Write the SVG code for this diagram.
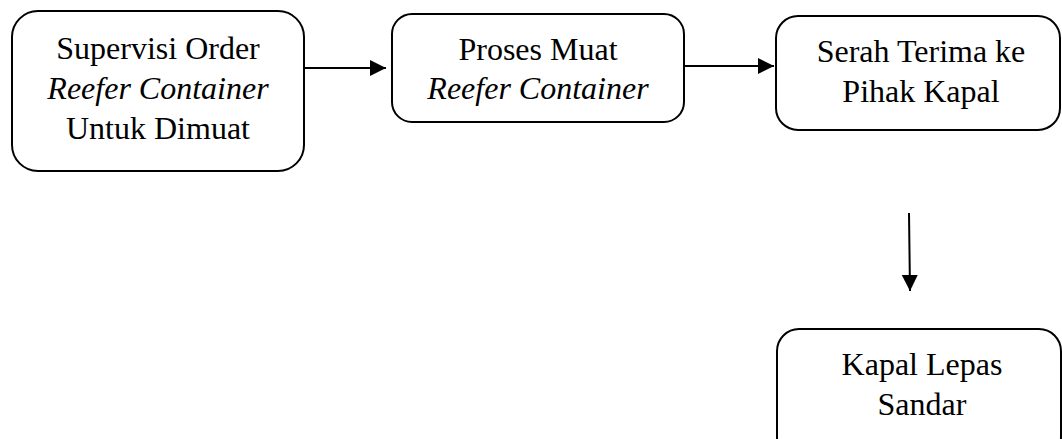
<svg xmlns="http://www.w3.org/2000/svg" width="1062" height="439" viewBox="0 0 1062 439">
  <style>
    .box { fill: #ffffff; stroke: #000000; stroke-width: 2; }
    .t { font-family: "Liberation Serif", "Times New Roman", serif; font-size: 32px; fill: #000000; text-anchor: middle; }
    .i { font-style: italic; }
    .edge { stroke: #000000; stroke-width: 2; fill: none; }
  </style>
  <defs>
    <marker id="ah" markerUnits="userSpaceOnUse" markerWidth="16" markerHeight="16" viewBox="0 0 16 16" refX="16" refY="8" orient="auto">
      <path d="M0,0 L16,8 L0,16 Z" fill="#000000"/>
    </marker>
  </defs>
  <rect width="1062" height="439" fill="#ffffff"/>
  <g id="connectors">
    <line class="edge" x1="304" y1="68" x2="386" y2="68" marker-end="url(#ah)"/>
    <line class="edge" x1="685" y1="66" x2="774" y2="66" marker-end="url(#ah)"/>
    <line class="edge" x1="909" y1="213" x2="910" y2="291" marker-end="url(#ah)"/>
  </g>
  <g id="node-supervisi">
    <rect class="box" x="12" y="11" width="292" height="160" rx="26" ry="26"/>
    <text class="t" x="158" y="59">Supervisi Order</text>
    <text class="t i" x="158" y="99">Reefer Container</text>
    <text class="t" x="158" y="139">Untuk Dimuat</text>
  </g>
  <g id="node-proses">
    <rect class="box" x="392" y="14" width="292" height="108" rx="20" ry="20"/>
    <text class="t" x="538" y="60">Proses Muat</text>
    <text class="t i" x="538" y="99">Reefer Container</text>
  </g>
  <g id="node-serah">
    <rect class="box" x="776" y="16" width="284" height="114" rx="22" ry="22"/>
    <text class="t" x="921" y="62">Serah Terima ke</text>
    <text class="t" x="921" y="102">Pihak Kapal</text>
  </g>
  <g id="node-kapal">
    <rect class="box" x="777" y="329" width="284" height="130" rx="22" ry="22"/>
    <text class="t" x="922" y="375">Kapal Lepas</text>
    <text class="t" x="922" y="415">Sandar</text>
  </g>
</svg>
